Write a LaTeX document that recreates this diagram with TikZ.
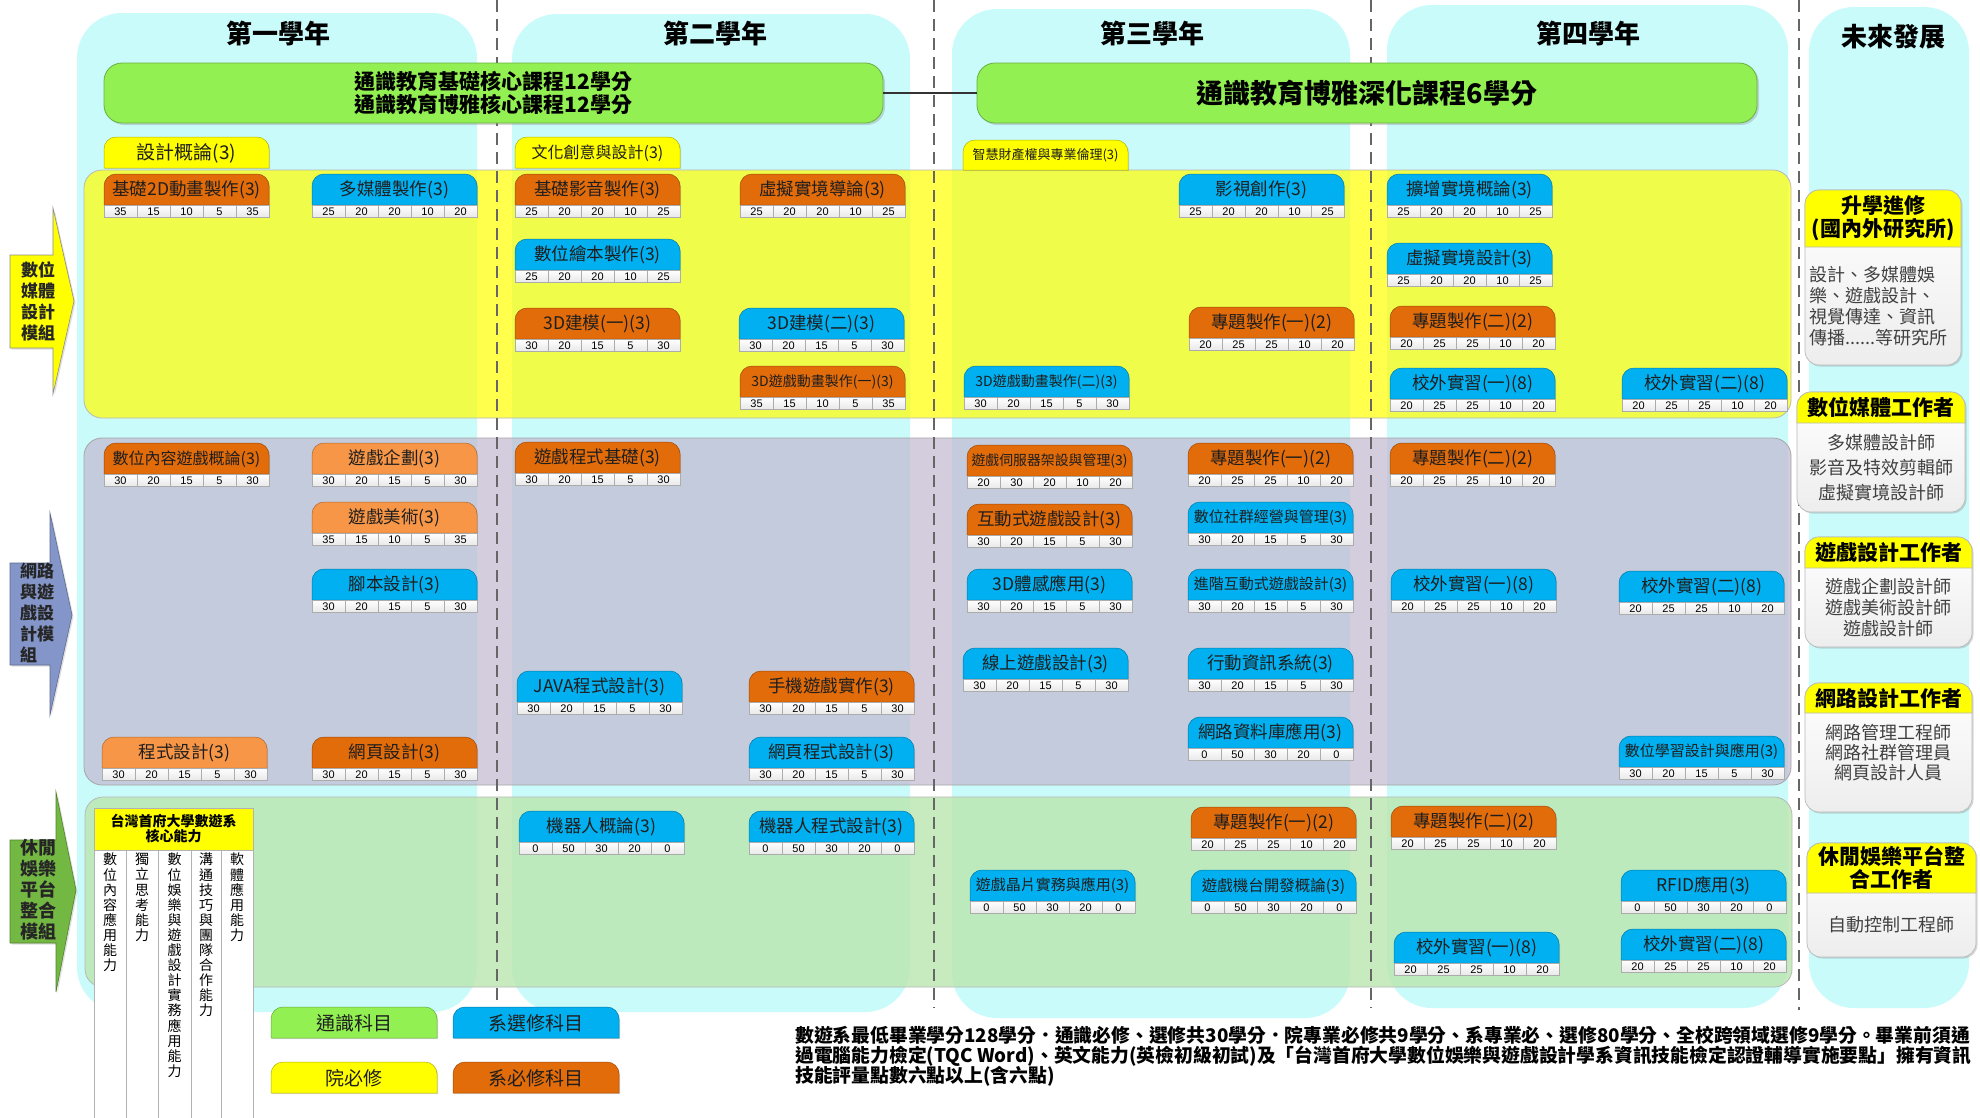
\documentclass[tikz,border=0pt]{standalone}
\usepackage{fontspec}
\setmainfont{Noto Sans CJK TC}
\newfontfamily\numf{Liberation Sans}
\usepackage{graphicx}
\usetikzlibrary{shadows}
\definecolor{colcyan}{RGB}{202,251,251}
\definecolor{geGreen}{RGB}{146,240,82}
\definecolor{geGreenD}{RGB}{104,176,64}
\definecolor{cOrange}{RGB}{226,107,10}
\definecolor{cOrangeL}{RGB}{247,150,70}
\definecolor{cBlue}{RGB}{0,176,240}
\definecolor{cYellow}{RGB}{255,255,0}
\definecolor{bandGray}{RGB}{194,184,208}
\definecolor{bandGreen}{RGB}{186,230,174}
\definecolor{arrBlue}{RGB}{132,150,201}
\definecolor{arrGreen}{RGB}{116,184,68}
\definecolor{txt}{RGB}{30,30,30}

\newsavebox\fitbox
\newcommand\fitw[2]{\sbox\fitbox{#2}\ifdim\wd\fitbox>#1\relax\resizebox{#1}{!}{\usebox\fitbox}\else\usebox\fitbox\fi}

% top-rounded box: name, x, y, w, h, fill, font, text
\newcommand\rtab[8]{%
 \path[fill=#6, draw=#6!70!black, line width=0.5pt, drop shadow={opacity=0.25,shadow xshift=1.2pt,shadow yshift=-1.2pt}]
   (#2,#3+#5) -- (#2,#3+12) arc[start angle=180,end angle=270,radius=12] -- (#2+#4-12,#3) arc[start angle=270,end angle=360,radius=12] -- (#2+#4,#3+#5) -- cycle;
 \node[inner sep=0, text=txt, font=#7] (#1) at (#2+#4/2,#3+#5/2+0.5) {#8};}

% course: [size] name, x, y, colour, title, numbers
\newcommand\crs[7][17.5]{%
 \rtab{#2}{#3}{#4}{165}{31}{#5}{\fontsize{#1}{#1}\selectfont}{\fitw{156pt}{#6}}%
 \foreach \v [count=\i] in {#7}{%
   \path[draw=gray!65, line width=0.4pt, top color=white, bottom color=gray!18] ({#3+(\i-1)*33},#4+31) rectangle ({#3+\i*33},#4+43.5);
   \node[inner sep=0, font=\numf\fontsize{11}{11}\selectfont] at ({#3+(\i-0.5)*33},#4+37.6) {\v};}%
}

% future box: name, x, y, w, header h, total h, header text, body node options, body text
\newcommand\futbox[9]{%
 \path[draw=gray!55, line width=0.7pt, top color=white, bottom color=gray!14, rounded corners=14pt, drop shadow={opacity=0.3,shadow xshift=1.5pt,shadow yshift=-1.5pt}] (#2,#3) rectangle (#2+#4,#3+#6);
 \path[fill=cYellow, draw=gray!55, line width=0.7pt] (#2,#3+#5) -- (#2,#3+14) arc[start angle=180,end angle=270,radius=14] -- (#2+#4-14,#3) arc[start angle=270,end angle=360,radius=14] -- (#2+#4,#3+#5) -- cycle;
 \node[inner sep=0, align=center, font=\fontsize{21}{23}\selectfont\bfseries] (#1h) at (#2+#4/2,#3+#5/2) {#7};
 \node[inner sep=0, text=black!75, align=center, #8] (#1b) at (#2+#4/2,{#3+(#5+#6)/2}) {#9};}

\tikzset{
 colbg/.style={fill=colcyan, rounded corners=45pt},
 yeartitle/.style={font=\fontsize{26}{28}\selectfont\bfseries, inner sep=0},
 gebox/.style={draw=geGreenD, fill=geGreen, rounded corners=18pt, line width=0.8pt, inner sep=0, drop shadow={opacity=0.3, shadow xshift=2pt, shadow yshift=-2pt}},
 band/.style={rounded corners=18pt, line width=0.8pt},
 dashsep/.style={dash pattern=on 12pt off 7pt, line width=1.8pt, draw=black!60},
 arrowlbl/.style={font=\fontsize{17}{21}\selectfont\bfseries, align=left, inner sep=0, text=black!85},
 vt/.style={anchor=north, align=center, inner sep=0, font=\fontsize{14}{15.1}\selectfont}
}

\begin{document}
\begin{tikzpicture}[x=1pt,y=-1pt]
\useasboundingbox (0,0) rectangle (1980,1117);
\fill[white] (0,0) rectangle (1980,1117);

% year columns
\fill[colbg] (77,13) rectangle (477,1012);
\fill[colbg] (512,14) rectangle (910,1012);
\fill[colbg] (952,9) rectangle (1350,1018);
\fill[colbg] (1387,5) rectangle (1788,1008);
\fill[colbg] (1809,7) rectangle (1969,1008);

\node[yeartitle] (y1) at (278,33) {第一學年};
\node[yeartitle] (y2) at (715,33) {第二學年};
\node[yeartitle] (y3) at (1152,33) {第三學年};
\node[yeartitle] (y4) at (1588,33) {第四學年};
\node[yeartitle] (y5) at (1893,37) {未來發展};

% module bands
\path[band, fill=cYellow, fill opacity=0.7, draw=black!28] (84,170) rectangle (1791,418);
\path[band, fill=bandGray, fill opacity=0.7, draw=black!35] (84,438) rectangle (1791,785);
\path[band, fill=bandGreen, fill opacity=0.8, draw=black!28] (85,797) rectangle (1792,987);

% dashed year separators
\draw[dashsep] (497,0) -- (497,1008);
\draw[dashsep] (934,0) -- (934,1008);
\draw[dashsep] (1371,0) -- (1371,1008);
\draw[dashsep] (1799,0) -- (1799,1010);

% general education
\node[gebox, minimum width=779pt, minimum height=60pt, font=\fontsize{21}{23.5}\selectfont\bfseries, align=center] (ge1) at (493.5,93) {通識教育基礎核心課程12學分\\通識教育博雅核心課程12學分};
\node[gebox, minimum width=780pt, minimum height=60pt, font=\fontsize{27}{29}\selectfont\bfseries] (ge2) at (1367,93) {通識教育博雅深化課程6學分};
\draw[line width=1.3pt, black!80] (ge1.east) -- (ge2.west);

% college required tabs
\rtab{t1}{104}{137}{165}{31}{cYellow}{\fontsize{19}{19}\selectfont}{設計概論(3)}
\rtab{t2}{515}{137}{165}{31}{cYellow}{\fontsize{16}{16}\selectfont}{文化創意與設計(3)}
\rtab{t3}{963}{140}{165}{30}{cYellow}{\fontsize{13}{13}\selectfont}{智慧財產權與專業倫理(3)}

% ---- digital media design module
\crs{c1}{104}{174}{cOrange}{基礎2D動畫製作(3)}{35,15,10,5,35}
\crs{c2}{312}{174}{cBlue}{多媒體製作(3)}{25,20,20,10,20}
\crs{c3}{515}{174}{cOrange}{基礎影音製作(3)}{25,20,20,10,25}
\crs{c4}{740}{174}{cOrange}{虛擬實境導論(3)}{25,20,20,10,25}
\crs{c5}{515}{239}{cBlue}{數位繪本製作(3)}{25,20,20,10,25}
\crs{c6}{515}{308}{cOrange}{3D建模(一)(3)}{30,20,15,5,30}
\crs{c7}{739}{308}{cBlue}{3D建模(二)(3)}{30,20,15,5,30}
\crs[14]{c8}{740}{366}{cOrange}{3D遊戲動畫製作(一)(3)}{35,15,10,5,35}
\crs{c9}{1179}{174}{cBlue}{影視創作(3)}{25,20,20,10,25}
\crs{c10}{1189}{307}{cOrange}{專題製作(一)(2)}{20,25,25,10,20}
\crs[14]{c11}{964}{366}{cBlue}{3D遊戲動畫製作(二)(3)}{30,20,15,5,30}
\crs{c12}{1387}{174}{cBlue}{擴增實境概論(3)}{25,20,20,10,25}
\crs{c13}{1387}{243}{cBlue}{虛擬實境設計(3)}{25,20,20,10,25}
\crs{c14}{1390}{306}{cOrange}{專題製作(二)(2)}{20,25,25,10,20}
\crs{c15}{1390}{368}{cBlue}{校外實習(一)(8)}{20,25,25,10,20}
\crs{c16}{1622}{368}{cBlue}{校外實習(二)(8)}{20,25,25,10,20}

% ---- network & game design module
\crs[16]{d1}{104}{443}{cOrange}{數位內容遊戲概論(3)}{30,20,15,5,30}
\crs{d2}{312}{443}{cOrangeL}{遊戲企劃(3)}{30,20,15,5,30}
\crs{d3}{312}{502}{cOrangeL}{遊戲美術(3)}{35,15,10,5,35}
\crs{d4}{312}{569}{cBlue}{腳本設計(3)}{30,20,15,5,30}
\crs{d5}{102}{737}{cOrangeL}{程式設計(3)}{30,20,15,5,30}
\crs{d6}{312}{737}{cOrange}{網頁設計(3)}{30,20,15,5,30}
\crs{d7}{515}{442}{cOrange}{遊戲程式基礎(3)}{30,20,15,5,30}
\crs{d8}{517}{671}{cBlue}{JAVA程式設計(3)}{30,20,15,5,30}
\crs{d9}{749}{671}{cOrange}{手機遊戲實作(3)}{30,20,15,5,30}
\crs{d10}{749}{737}{cBlue}{網頁程式設計(3)}{30,20,15,5,30}
\crs[14]{d11}{967}{445}{cOrange}{遊戲伺服器架設與管理(3)}{20,30,20,10,20}
\crs{d12}{967}{504}{cOrange}{互動式遊戲設計(3)}{30,20,15,5,30}
\crs{d13}{967}{569}{cBlue}{3D體感應用(3)}{30,20,15,5,30}
\crs{d14}{963}{648}{cBlue}{線上遊戲設計(3)}{30,20,15,5,30}
\crs{d15}{1188}{443}{cOrange}{專題製作(一)(2)}{20,25,25,10,20}
\crs[15]{d16}{1188}{502}{cBlue}{數位社群經營與管理(3)}{30,20,15,5,30}
\crs[15]{d17}{1188}{569}{cBlue}{進階互動式遊戲設計(3)}{30,20,15,5,30}
\crs{d18}{1188}{648}{cBlue}{行動資訊系統(3)}{30,20,15,5,30}
\crs{d19}{1188}{717}{cBlue}{網路資料庫應用(3)}{0,50,30,20,0}
\crs{d20}{1390}{443}{cOrange}{專題製作(二)(2)}{20,25,25,10,20}
\crs{d21}{1391}{569}{cBlue}{校外實習(一)(8)}{20,25,25,10,20}
\crs{d22}{1619}{571}{cBlue}{校外實習(二)(8)}{20,25,25,10,20}
\crs[15]{d23}{1619}{736}{cBlue}{數位學習設計與應用(3)}{30,20,15,5,30}

% ---- leisure & entertainment module
\crs{e1}{519}{811}{cBlue}{機器人概論(3)}{0,50,30,20,0}
\crs{e2}{749}{811}{cBlue}{機器人程式設計(3)}{0,50,30,20,0}
\crs[15]{e3}{970}{870}{cBlue}{遊戲晶片實務與應用(3)}{0,50,30,20,0}
\crs{e4}{1191}{807}{cOrange}{專題製作(一)(2)}{20,25,25,10,20}
\crs[15.5]{e5}{1191}{870}{cBlue}{遊戲機台開發概論(3)}{0,50,30,20,0}
\crs{e6}{1391}{806}{cOrange}{專題製作(二)(2)}{20,25,25,10,20}
\crs{e7}{1621}{870}{cBlue}{RFID應用(3)}{0,50,30,20,0}
\crs{e8}{1394}{932}{cBlue}{校外實習(一)(8)}{20,25,25,10,20}
\crs{e9}{1621}{929}{cBlue}{校外實習(二)(8)}{20,25,25,10,20}

% module arrows
\path[fill=cYellow, draw=black!45, line width=0.6pt, drop shadow={opacity=0.25,shadow xshift=1.5pt,shadow yshift=-1.5pt}] (10,255) -- (53,255) -- (53,208) -- (74,301) -- (53,394) -- (53,348) -- (10,348) -- cycle;
\node[arrowlbl] (m1) at (38,301) {數位\\媒體\\設計\\模組};
\path[fill=arrBlue, draw=arrBlue!70!black, line width=0.6pt, drop shadow={opacity=0.25,shadow xshift=1.5pt,shadow yshift=-1.5pt}] (10,563) -- (50,563) -- (50,513) -- (72,615) -- (50,715) -- (50,665) -- (10,665) -- cycle;
\node[arrowlbl] (m2) at (37,613) {網路\\與遊\\戲設\\計模\\組};
\path[fill=arrGreen, draw=arrGreen!70!black, line width=0.6pt, drop shadow={opacity=0.25,shadow xshift=1.5pt,shadow yshift=-1.5pt}] (10,840) -- (56,840) -- (56,792) -- (76,890) -- (56,992) -- (56,943) -- (10,943) -- cycle;
\node[arrowlbl, font=\fontsize{18}{21}\selectfont\bfseries] (m3) at (38,890) {休閒\\娛樂\\平台\\整合\\模組};

% future development
\futbox{f1}{1805}{190}{156}{57}{175}{升學進修\\(國內外研究所)}{font=\fontsize{18}{21}\selectfont, align=left, xshift=-5pt}{設計、多媒體娛\\樂、遊戲設計、\\視覺傳達、資訊\\傳播......等研究所}
\futbox{f2}{1797}{392}{168}{31}{120}{數位媒體工作者}{font=\fontsize{18}{25}\selectfont}{多媒體設計師\\影音及特效剪輯師\\虛擬實境設計師}
\futbox{f3}{1805}{537}{167}{31}{110}{遊戲設計工作者}{font=\fontsize{18}{21}\selectfont}{遊戲企劃設計師\\遊戲美術設計師\\遊戲設計師}
\futbox{f4}{1805}{683}{167}{30}{129}{網路設計工作者}{font=\fontsize{18}{20}\selectfont, yshift=10pt}{網路管理工程師\\網路社群管理員\\網頁設計人員}
\futbox{f5}{1807}{843}{169}{50}{114}{休閒娛樂平台整\\合工作者}{font=\fontsize{18}{21}\selectfont}{自動控制工程師}

% core competencies table
\path[fill=white, draw=gray!60, line width=0.6pt] (94,850) rectangle (253,1118);
\path[fill=cYellow, draw=gray!60, line width=0.6pt] (94,808) rectangle (253,850);
\node[font=\fontsize{14}{15}\selectfont\bfseries, align=center, inner sep=0] (core) at (173.5,829) {台灣首府大學數遊系\\核心能力};
\foreach \xx in {126,158,191,221} \draw[gray!60, line width=0.6pt] (\xx,850) -- (\xx,1118);
\node[vt] (k1) at (110,853) {數\\位\\內\\容\\應\\用\\能\\力};
\node[vt] (k2) at (142,853) {獨\\立\\思\\考\\能\\力};
\node[vt] (k3) at (174.5,853) {數\\位\\娛\\樂\\與\\遊\\戲\\設\\計\\實\\務\\應\\用\\能\\力};
\node[vt] (k4) at (206,853) {溝\\通\\技\\巧\\與\\團\\隊\\合\\作\\能\\力};
\node[vt] (k5) at (237,853) {軟\\體\\應\\用\\能\\力};

% legend
\rtab{lg1}{271}{1007}{166}{31}{geGreen}{\fontsize{19}{19}\selectfont}{通識科目}
\rtab{lg2}{453}{1007}{166}{31}{cBlue}{\fontsize{19}{19}\selectfont}{系選修科目}
\rtab{lg3}{271}{1062}{166}{31}{cYellow}{\fontsize{19}{19}\selectfont}{院必修}
\rtab{lg4}{453}{1062}{166}{31}{cOrange}{\fontsize{19}{19}\selectfont}{系必修科目}

% footer note
\node[anchor=base west, inner sep=0, font=\fontsize{18.8}{20}\selectfont\bfseries] (ft1) at (795,1042) {數遊系最低畢業學分128學分．通識必修、選修共30學分．院專業必修共9學分、系專業必、選修80學分、全校跨領域選修9學分。畢業前須通};
\node[anchor=base west, inner sep=0, font=\fontsize{18.8}{20}\selectfont\bfseries] (ft2) at (795,1062) {過電腦能力檢定(TQC Word)、英文能力(英檢初級初試)及「台灣首府大學數位娛樂與遊戲設計學系資訊技能檢定認證輔導實施要點」擁有資訊};
\node[anchor=base west, inner sep=0, font=\fontsize{18.8}{20}\selectfont\bfseries] (ft3) at (795,1082) {技能評量點數六點以上(含六點)};
\end{tikzpicture}
\end{document}
